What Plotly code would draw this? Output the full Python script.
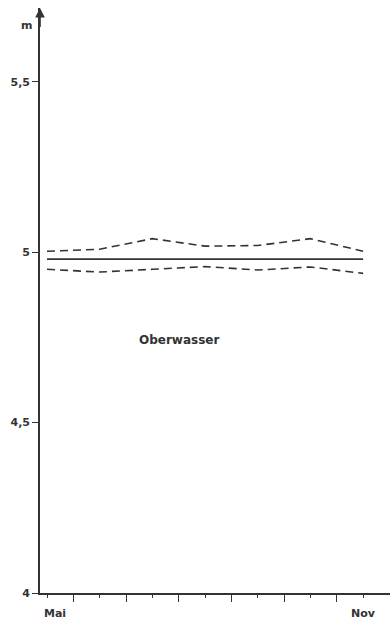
import plotly.graph_objects as go

# Monthly positions May..Nov (0..6)
months = [0, 1, 2, 3, 4, 5, 6]
month_labels = ["Mai", "", "", "", "", "", "Nov"]

# Water levels (m)
mean_level = [4.98, 4.98, 4.98, 4.98, 4.98, 4.98, 4.98]
upper_level = [5.003, 5.009, 5.04, 5.018, 5.02, 5.04, 5.003]
lower_level = [4.950, 4.942, 4.950, 4.958, 4.948, 4.957, 4.938]

y_ticks = [4, 4.5, 5, 5.5]
y_tick_text = ["4", "4,5", "5", "5,5"]

ink = "#333333"
font = dict(family="DejaVu Sans, Arial, sans-serif", size=11, color=ink, weight=700)

x_range = [-0.133, 6.51]
y_range = [4.0, 5.717]

fig = go.Figure()
fig.add_trace(go.Scatter(x=months, y=upper_level, mode="lines",
                         line=dict(color=ink, width=1.6, dash="8px,5px"), showlegend=False))
fig.add_trace(go.Scatter(x=months, y=mean_level, mode="lines",
                         line=dict(color=ink, width=1.6), showlegend=False))
fig.add_trace(go.Scatter(x=months, y=lower_level, mode="lines",
                         line=dict(color=ink, width=1.6, dash="8px,5px"), showlegend=False))

fig.update_layout(
    width=390, height=624,
    margin=dict(l=40, r=0, t=8, b=31),
    paper_bgcolor="white", plot_bgcolor="white",
    font=font,
    xaxis=dict(range=x_range, showline=True, linecolor=ink, linewidth=1.6,
               showgrid=False, zeroline=False,
               tickvals=[0.5, 1.5, 2.5, 3.5, 4.5, 5.5], ticktext=[""] * 6,
               ticks="outside", ticklen=7, tickwidth=1.3, tickcolor=ink,
               minor=dict(tickvals=months, ticks="outside", ticklen=3,
                          tickwidth=1.3, tickcolor=ink, showgrid=False)),
    yaxis=dict(range=y_range, showline=True, linecolor=ink, linewidth=1.6,
               showgrid=False, zeroline=False,
               tickvals=y_ticks, ticktext=y_tick_text,
               ticks="outside", ticklen=6, tickwidth=1.3, tickcolor=ink,
               tickfont=font),
)

# Month labels under the axis
for m, lab in zip(months, month_labels):
    if lab:
        fig.add_annotation(x=m, y=y_range[0], xref="x", yref="y", text=lab,
                           showarrow=False, yanchor="top", yshift=-12,
                           xshift=8 if m == 0 else 0, font=font)

# Axis arrow and unit
fig.add_annotation(x=x_range[0], y=y_range[1], ax=x_range[0], ay=y_range[1] - 0.06,
                   xref="x", yref="y", axref="x", ayref="y", text="",
                   showarrow=True, arrowhead=2, arrowsize=1.2, arrowwidth=1.6,
                   arrowcolor=ink)
fig.add_annotation(x=x_range[0], y=5.665, xref="x", yref="y", text="m",
                   showarrow=False, xanchor="right", xshift=-6, font=font)

fig.add_annotation(x=2.5, y=4.743, xref="x", yref="y", text="Oberwasser",
                   showarrow=False, font=dict(family=font["family"], size=12,
                                              color=ink, weight=700))

fig.write_html("out.html")
